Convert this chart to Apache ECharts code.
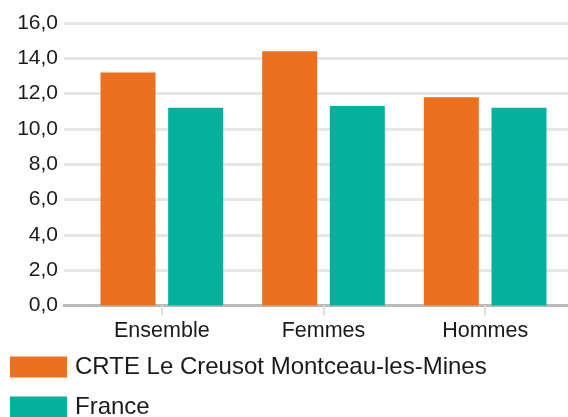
<!DOCTYPE html>
<html>
<head>
<meta charset="utf-8">
<script src="https://cdn.jsdelivr.net/npm/echarts@6/dist/echarts.min.js"></script>
<style>
  html, body { margin: 0; padding: 0; background: #fff; }
  #chart { width: 568px; height: 417px; }
</style>
</head>
<body>
<div id="chart"></div>
<script>
// Categories and series values
const categories = ['Ensemble', 'Femmes', 'Hommes'];
const territoryName = 'CRTE Le Creusot Montceau-les-Mines';
const territoryValues = [13.2, 14.4, 11.8];
const franceName = 'France';
const franceValues = [11.2, 11.3, 11.2];
const yTicks = { min: 0, max: 16, step: 2 };

const ORANGE = '#ED701E';
const TEAL = '#05B09C';
const FONT = '"Liberation Sans", Arial, Helvetica, sans-serif';

const chart = echarts.init(document.getElementById('chart'), null, { renderer: 'canvas' });

const fmt = v => v.toFixed(1).replace('.', ',');

// one legend block per series, stacked vertically
const legendBlock = (name, top) => ({
  left: 5,
  top: top,
  padding: 5,
  itemWidth: 57,
  itemHeight: 21,
  icon: 'rect',
  data: [name],
  textStyle: { fontFamily: FONT, fontSize: 24, lineHeight: 21, color: '#1a1a1a', padding: [0, 0, 0, 3] }
});

chart.setOption({
  animation: false,
  backgroundColor: '#ffffff',
  textStyle: { fontFamily: FONT },
  grid: [
    // background grid: gridlines + baseline across full width
    { left: 64, right: 0, top: 23, bottom: 111.5, containLabel: false },
    // bars
    { left: 81, right: 2, top: 23, bottom: 111.5, containLabel: false }
  ],
  legend: [
    legendBlock(territoryName, 350),
    legendBlock(franceName, 390)
  ],
  xAxis: [
    {
      type: 'category', gridIndex: 0, data: [''],
      axisLine: { show: true, lineStyle: { color: '#bbbbbb', width: 3 } },
      axisTick: { show: false }, axisLabel: { show: false }, splitLine: { show: false }
    },
    {
      type: 'category', gridIndex: 1, data: categories,
      axisLine: { show: false },
      axisTick: { show: true, alignWithLabel: true, length: 10, lineStyle: { color: '#dddddd', width: 2 } },
      axisLabel: { fontFamily: FONT, fontSize: 21.5, color: '#1a1a1a', margin: 15 },
      splitLine: { show: false }
    }
  ],
  yAxis: [
    {
      type: 'value', gridIndex: 0, min: yTicks.min, max: yTicks.max, interval: yTicks.step,
      axisLine: { show: false }, axisTick: { show: false },
      axisLabel: { fontFamily: FONT, fontSize: 21, color: '#1a1a1a', margin: 6, formatter: fmt },
      splitLine: { show: true, lineStyle: { color: '#e6e6e6', width: 3 } }
    },
    {
      type: 'value', gridIndex: 1, min: yTicks.min, max: yTicks.max, interval: yTicks.step,
      show: false, splitLine: { show: false }
    }
  ],
  series: [
    {
      name: territoryName, type: 'bar', xAxisIndex: 1, yAxisIndex: 1,
      data: territoryValues, barWidth: 55, barGap: '23%',
      itemStyle: { color: ORANGE }
    },
    {
      name: franceName, type: 'bar', xAxisIndex: 1, yAxisIndex: 1,
      data: franceValues, barWidth: 55, barGap: '23%',
      itemStyle: { color: TEAL }
    }
  ]
});
</script>
</body>
</html>
